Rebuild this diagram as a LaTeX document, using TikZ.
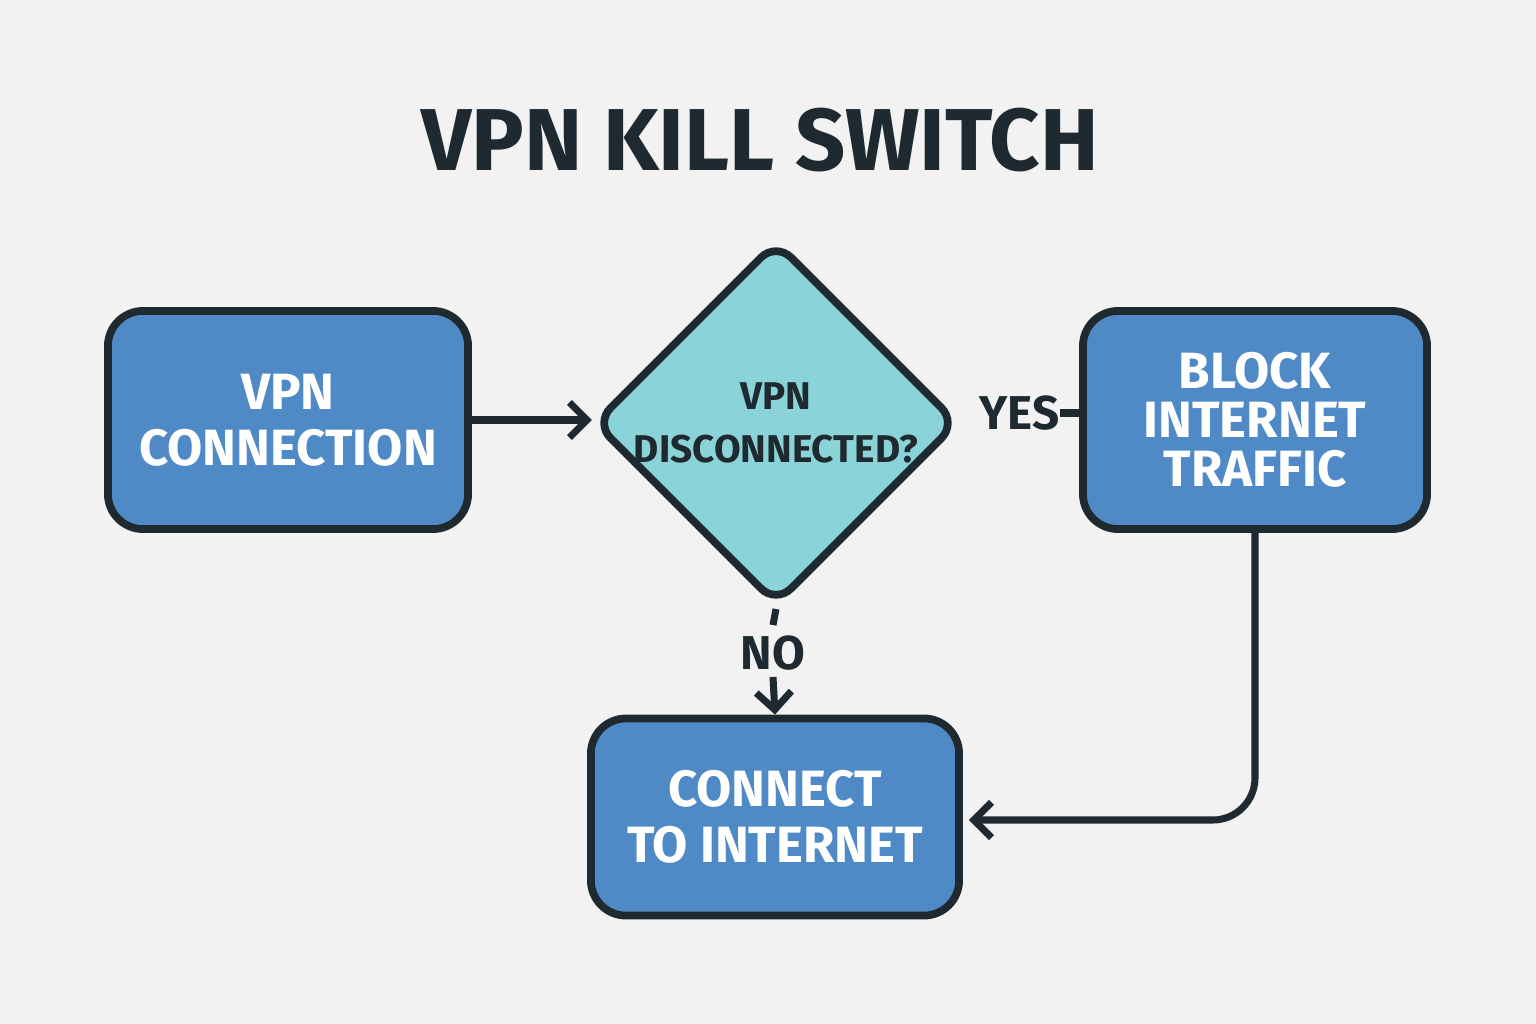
\documentclass[tikz,border=0pt]{standalone}
\usepackage{fontspec}
\setmainfont{Fira Sans}
\usetikzlibrary{arrows.meta, calc, positioning, shapes.geometric}
\definecolor{bgvpn}{HTML}{F2F2F2}
\definecolor{inkvpn}{HTML}{1F2A30}
\definecolor{boxvpn}{HTML}{4F8AC6}
\definecolor{diavpn}{HTML}{8AD3D9}

\begin{document}
\begin{tikzpicture}[x=0.01cm, y=-0.01cm,
            box/.style={rectangle, rounded corners=10pt, draw=inkvpn, line width=2.2pt, fill=boxvpn,
                text=white, font=\bfseries\fontsize{14.5}{14}\selectfont, align=center},
            dia/.style={diamond, rounded corners=6pt, draw=inkvpn, line width=2.2pt, fill=diavpn,
                text=inkvpn, font=\bfseries\fontsize{11}{15}\selectfont, align=center, inner sep=0pt},
            lbl/.style={text=inkvpn, font=\bfseries\fontsize{13.5}{15}\selectfont, inner sep=0pt},
            conn/.style={draw=inkvpn, line width=2pt},
            arr/.style={conn, -{Straight Barb[length=5pt, width=10pt, line width=2pt]}}]
        \fill[bgvpn] (0,0) rectangle (1536,1024);
        \node[text=inkvpn, font=\bfseries\fontsize{25}{30}\selectfont] (title) at (760,140) {VPN KILL SWITCH};
        \node[box, minimum width=3.6cm, minimum height=2.18cm] (vpn) at (288,420) {VPN\\[2pt]CONNECTION};
        \node[dia, minimum width=3.12cm, minimum height=3.1cm] (check) at (776,423) {VPN\\[0pt]DISCONNECTED?};
        \node[box, minimum width=3.44cm, minimum height=2.18cm] (block) at (1255,420) {BLOCK\\INTERNET\\TRAFFIC};
        \node[box, minimum width=3.68cm, minimum height=1.97cm] (connect) at (775,817) {CONNECT\\[2pt]TO INTERNET};
        \node[lbl, anchor=east] (yes) at (1060,413) {YES};
        \node[lbl] (no) at (773,653) {NO};
        % connectors
        \draw[arr] (vpn.east) -- ++(120,0) coordinate (tip);
        \draw[conn] (yes.east) -- (block.west |- yes.east);
        \draw[conn] (check.south) -- ($(no.north)+(0,-10)$);
        \draw[arr] ($(no.south)+(0,6)$) -- (connect.north);
        \draw[arr, rounded corners=12pt] (block.south) |- ($(connect.east)+(6,3)$);
    \end{tikzpicture}
\end{document}
